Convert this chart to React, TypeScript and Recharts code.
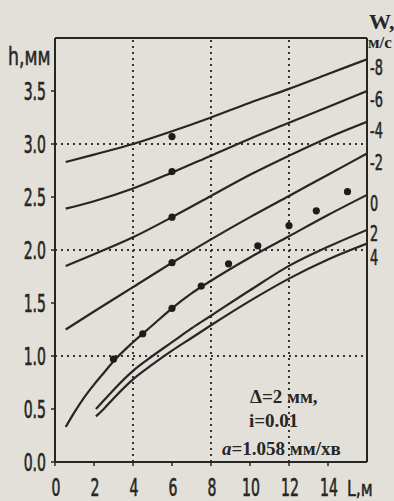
import React from 'react';
import { ComposedChart, Line, Scatter, XAxis, YAxis, ReferenceLine } from 'recharts';

// Flow depth h (mm) along the channel length L (m) for several wind speeds W (m/s)
const stationsUpper = [0.55, 2, 4, 6, 8, 10, 12, 14, 16];
const depthWm8 = [2.83, 2.9, 3.0, 3.12, 3.25, 3.39, 3.52, 3.66, 3.8];
const depthWm6 = [2.39, 2.46, 2.58, 2.73, 2.89, 3.05, 3.2, 3.35, 3.5];
const depthWm4 = [1.85, 1.96, 2.12, 2.31, 2.51, 2.71, 2.89, 3.06, 3.21];
const depthWm2 = [1.25, 1.42, 1.65, 1.88, 2.1, 2.31, 2.51, 2.71, 2.91];

const stationsCalm = [0.55, 1, 1.5, 2, 2.5, 3, 4, 5, 6, 7, 8, 10, 12, 14, 16];
const depthW0 = [0.33, 0.47, 0.61, 0.73, 0.84, 0.95, 1.13, 1.29, 1.45, 1.59, 1.71, 1.93, 2.13, 2.33, 2.52];

const stationsLower = [2.1, 2.5, 3, 4, 5, 6, 7, 8, 10, 12, 14, 16];
const depthWp2 = [0.5, 0.58, 0.68, 0.86, 1.0, 1.13, 1.26, 1.38, 1.62, 1.85, 2.03, 2.19];
const depthWp4 = [0.43, 0.5, 0.6, 0.78, 0.92, 1.05, 1.17, 1.29, 1.52, 1.73, 1.91, 2.06];

const windLabels = ['-8', '-6', '-4', '-2', '0', '2', '4'];

// measured depths
const measuredL = [6, 6, 6, 6, 3, 4.5, 6, 7.5, 8.9, 10.4, 12, 13.4, 15];
const measuredH = [3.07, 2.74, 2.31, 1.88, 0.97, 1.21, 1.45, 1.66, 1.87, 2.04, 2.23, 2.37, 2.55];

const lengthTicks = [0, 2, 4, 6, 8, 10, 12, 14];
const depthTicks = [0, 0.5, 1, 1.5, 2, 2.5, 3, 3.5];
const gridLengths = [4, 8, 12];
const gridDepths = [1, 2, 3];

const noteLines = ['Δ=2 мм,', 'i=0.01', '=1.058 мм/хв'];

const zip = (ls: number[], hs: number[]) => ls.map((L, i) => ({ L, h: hs[i] }));

const curves = [
  zip(stationsUpper, depthWm8),
  zip(stationsUpper, depthWm6),
  zip(stationsUpper, depthWm4),
  zip(stationsUpper, depthWm2),
  zip(stationsCalm, depthW0),
  zip(stationsLower, depthWp2),
  zip(stationsLower, depthWp4),
];
const curveEnds = curves.map((c) => c[c.length - 1].h);
const measured = zip(measuredL, measuredH);

const INK = '#262626';
const BG = '#e3e0d9';
const NARROW = '"DejaVu Sans Condensed", "DejaVu Sans", sans-serif';

const narrowText = (x: number, y: number, s: string, anchor: string, sx = 0.65, size = 24) => (
  <text
    transform={`translate(${x},${y}) scale(${sx},1)`}
    textAnchor={anchor as any}
    fontSize={size}
    fontFamily={NARROW}
    fill={INK}
    stroke={INK}
    strokeWidth={0.6}
  >
    {s}
  </text>
);

const LeftTick = (p: any) => narrowText(p.x - 3, p.y + 8.5, Number(p.payload.value).toFixed(1), 'end');
const BottomTick = (p: any) => narrowText(p.x + 1, p.y + 28, String(p.payload.value), 'middle');
const RightTick = (p: any) => {
  const i = curveEnds.findIndex((v) => Math.abs(v - p.payload.value) < 1e-9);
  const label = windLabels[i] ?? '';
  // the two lowest labels sit stacked against each other
  const dy = label === '2' ? 11 : label === '4' ? 21 : 16;
  return narrowText(p.x + 1, p.y + dy, label, 'start', 0.65, 22);
};

export default function App() {
  return (
    <div style={{ position: 'absolute', left: 0, top: 0, width: 394, height: 501, background: BG, overflow: 'hidden' }}>
      <ComposedChart width={394} height={501} margin={{ top: 38, right: 0, bottom: 0, left: 0 }}>
        <XAxis
          type="number"
          dataKey="L"
          domain={[0, 16]}
          ticks={lengthTicks}
          interval={0}
          allowDataOverflow
          height={39}
          tickSize={4}
          axisLine={{ stroke: INK, strokeWidth: 2 }}
          tickLine={{ stroke: INK, strokeWidth: 1.5 }}
          tick={BottomTick}
        />
        <YAxis
          type="number"
          domain={[0, 4]}
          ticks={depthTicks}
          interval={0}
          allowDataOverflow
          width={55}
          tickSize={4}
          axisLine={{ stroke: INK, strokeWidth: 2 }}
          tickLine={{ stroke: INK, strokeWidth: 1.5 }}
          tick={LeftTick}
        />
        <YAxis
          yAxisId="w"
          orientation="right"
          type="number"
          domain={[0, 4]}
          ticks={curveEnds}
          interval={0}
          allowDataOverflow
          width={27}
          tickSize={0}
          tickLine={false}
          axisLine={{ stroke: INK, strokeWidth: 2 }}
          tick={RightTick}
        />
        <ReferenceLine y={4} stroke={INK} strokeWidth={2} />
        {gridLengths.map((L) => (
          <ReferenceLine key={'v' + L} x={L} stroke="#333" strokeWidth={2} strokeDasharray="2 4" />
        ))}
        {gridDepths.map((h) => (
          <ReferenceLine key={'h' + h} y={h} stroke="#333" strokeWidth={2} strokeDasharray="2 4" />
        ))}
        {curves.map((pts, i) => (
          <Line
            key={windLabels[i]}
            data={pts}
            dataKey="h"
            type="monotone"
            stroke={INK}
            strokeWidth={2.2}
            dot={false}
            activeDot={false}
            isAnimationActive={false}
          />
        ))}
        <Scatter
          data={measured}
          dataKey="h"
          isAnimationActive={false}
          shape={(p: any) => <circle cx={p.cx} cy={p.cy} r={3.6} fill="#1c1c1c" />}
        />
        {/* axis titles */}
        <text transform="translate(8,65) scale(0.8,1)" fontSize={24} fontFamily={NARROW} fill={INK} stroke={INK} strokeWidth={0.5}>
          h,мм
        </text>
        <text transform="translate(347,496) scale(0.8,1)" fontSize={22} fontFamily={NARROW} fill={INK} stroke={INK} strokeWidth={0.5}>
          L,м
        </text>
        <text x={369} y={29} fontSize={22} fontWeight="bold" fontFamily='"Liberation Serif", serif' fill={INK}>
          W,
        </text>
        <text x={368} y={48} fontSize={17} fontWeight="bold" fontFamily='"Liberation Serif", serif' fill={INK}>
          м/с
        </text>
        {/* run parameters */}
        <g fontFamily='"Liberation Serif", serif' fontWeight="bold" fontSize={19} fill={INK}>
          <text x={250} y={403}>{noteLines[0]}</text>
          <text x={249} y={427}>{noteLines[1]}</text>
          <text x={222} y={455}>
            <tspan fontStyle="italic">a</tspan>
            {noteLines[2]}
          </text>
        </g>
      </ComposedChart>
    </div>
  );
}
